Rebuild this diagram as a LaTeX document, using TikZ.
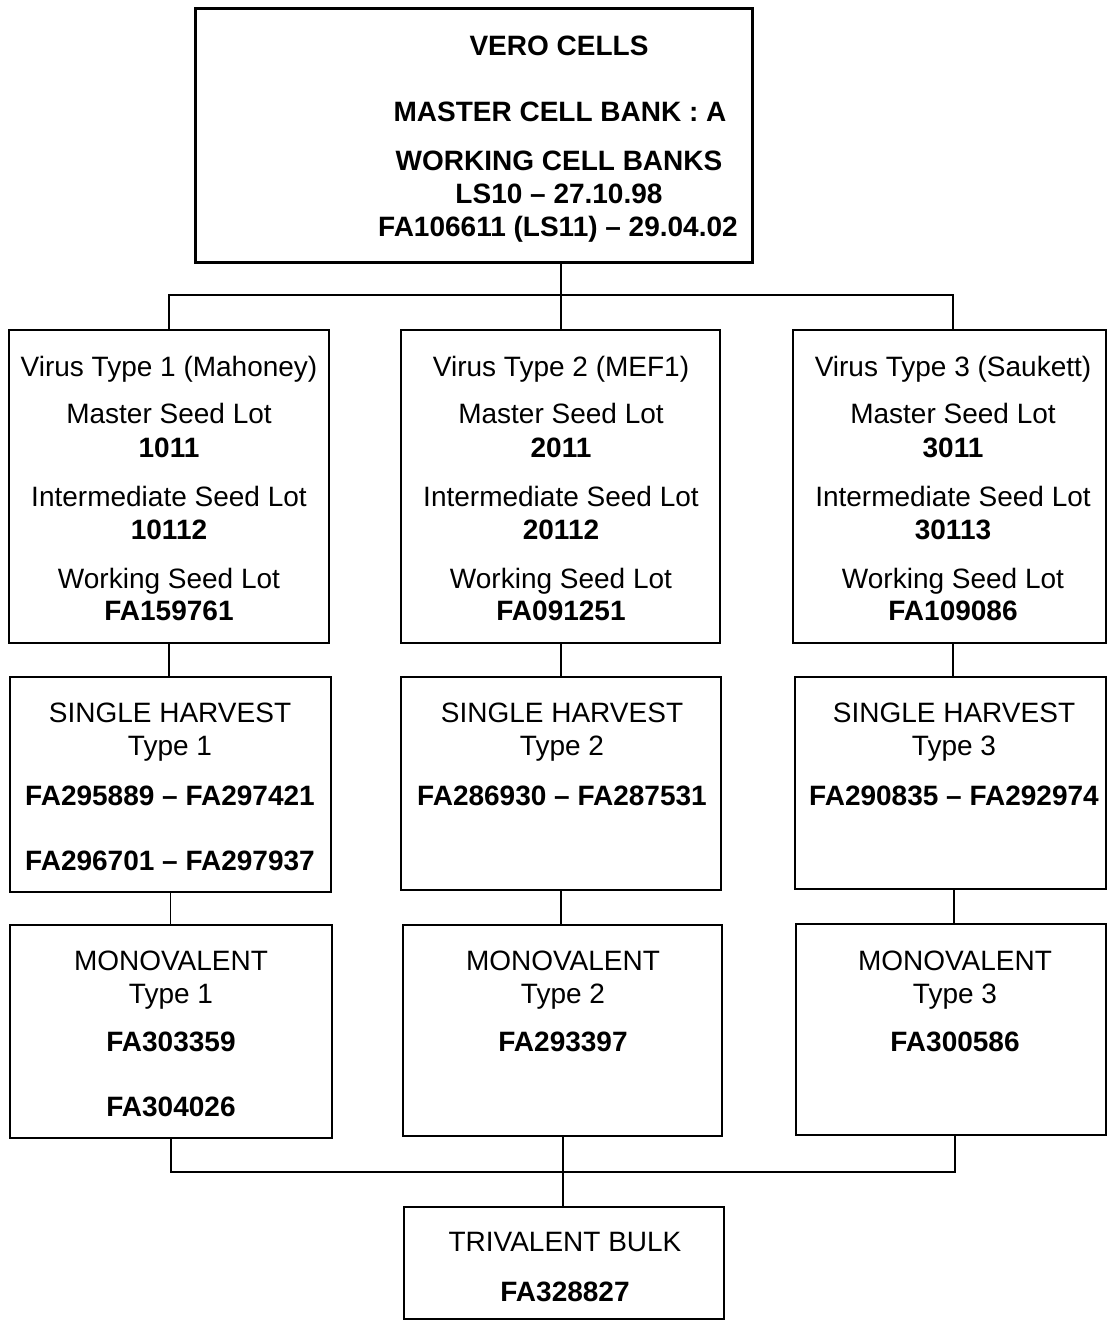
\documentclass[tikz,border=0pt]{standalone}
\usepackage{fontspec}
\setmainfont{Liberation Sans}
\begin{document}
\begin{tikzpicture}[x=1pt,y=-1pt,
  box/.style={draw, line width=1.8pt, anchor=north west, inner sep=0pt, outer sep=0pt},
  bigbox/.style={box, line width=3pt},
  conn/.style={draw, line width=1.5pt},
  txt/.style={anchor=base, inner sep=0pt, font=\fontsize{28}{33}\selectfont},
  btxt/.style={txt, font=\fontsize{28}{33}\selectfont\bfseries}]
\useasboundingbox (0,0) rectangle (1107,1320);
% boxes
\node[bigbox, minimum width=557pt, minimum height=254pt] (top) at (195,8) {};
\node[box, minimum width=320pt, minimum height=313pt] (v1) at (9,330) {};
\node[box, minimum width=319pt, minimum height=313pt] (v2) at (401,330) {};
\node[box, minimum width=313pt, minimum height=313pt] (v3) at (793,330) {};
\node[box, minimum width=321pt, minimum height=215pt] (s1) at (10,677) {};
\node[box, minimum width=320pt, minimum height=213pt] (s2) at (401,677) {};
\node[box, minimum width=311pt, minimum height=212pt] (s3) at (795,677) {};
\node[box, minimum width=322pt, minimum height=213pt] (m1) at (10,925) {};
\node[box, minimum width=319pt, minimum height=211pt] (m2) at (403,925) {};
\node[box, minimum width=310pt, minimum height=211pt] (m3) at (796,924) {};
\node[box, minimum width=320pt, minimum height=112pt] (tb) at (404,1207) {};
% top text
\node[btxt] (t1) at (559,55) {VERO CELLS};
\node[btxt] (t2) at (560,121) {MASTER CELL BANK : A};
\node[btxt] (t3) at (559,170) {WORKING CELL BANKS};
\node[btxt] (t4) at (559,203) {LS10 -- 27.10.98};
\node[btxt] (t5) at (558,236) {FA106611 (LS11) -- 29.04.02};
% virus boxes text
\node[txt] (a1) at (169,376) {Virus Type 1 (Mahoney)};
\node[txt] (a2) at (169,423) {Master Seed Lot};
\node[btxt] (a3) at (169,457) {1011};
\node[txt] (a4) at (169,506) {Intermediate Seed Lot};
\node[btxt] (a5) at (169,539) {10112};
\node[txt] (a6) at (169,588) {Working Seed Lot};
\node[btxt] (a7) at (169,620) {FA159761};
\node[txt] (b1) at (561,376) {Virus Type 2 (MEF1)};
\node[txt] (b2) at (561,423) {Master Seed Lot};
\node[btxt] (b3) at (561,457) {2011};
\node[txt] (b4) at (561,506) {Intermediate Seed Lot};
\node[btxt] (b5) at (561,539) {20112};
\node[txt] (b6) at (561,588) {Working Seed Lot};
\node[btxt] (b7) at (561,620) {FA091251};
\node[txt] (c1) at (953,376) {Virus Type 3 (Saukett)};
\node[txt] (c2) at (953,423) {Master Seed Lot};
\node[btxt] (c3) at (953,457) {3011};
\node[txt] (c4) at (953,506) {Intermediate Seed Lot};
\node[btxt] (c5) at (953,539) {30113};
\node[txt] (c6) at (953,588) {Working Seed Lot};
\node[btxt] (c7) at (953,620) {FA109086};
% single harvest text
\node[txt] (d1) at (170,722) {SINGLE HARVEST};
\node[txt] (d2) at (170,755) {Type 1};
\node[btxt] (d3) at (170,805) {FA295889 -- FA297421};
\node[btxt] (d4) at (170,870) {FA296701 -- FA297937};
\node[txt] (e1) at (562,722) {SINGLE HARVEST};
\node[txt] (e2) at (562,755) {Type 2};
\node[btxt] (e3) at (562,805) {FA286930 -- FA287531};
\node[txt] (f1) at (954,722) {SINGLE HARVEST};
\node[txt] (f2) at (954,755) {Type 3};
\node[btxt] (f3) at (954,805) {FA290835 -- FA292974};
% monovalent text
\node[txt] (g1) at (171,970) {MONOVALENT};
\node[txt] (g2) at (171,1003) {Type 1};
\node[btxt] (g3) at (171,1051) {FA303359};
\node[btxt] (g4) at (171,1116) {FA304026};
\node[txt] (h1) at (563,970) {MONOVALENT};
\node[txt] (h2) at (563,1003) {Type 2};
\node[btxt] (h3) at (563,1051) {FA293397};
\node[txt] (i1) at (955,970) {MONOVALENT};
\node[txt] (i2) at (955,1003) {Type 3};
\node[btxt] (i3) at (955,1051) {FA300586};
% trivalent text
\node[txt] (j1) at (565,1251) {TRIVALENT BULK};
\node[btxt] (j2) at (565,1301) {FA328827};
% connectors
\coordinate (bus1) at (561,295);
\draw[conn] (top.south -| bus1) -- (bus1);
\draw[conn] (bus1) -| (v1.north);
\draw[conn] (bus1) -- (bus1 |- v2.north);
\draw[conn] (bus1) -| (c1.north |- v3.north);
\draw[conn] (v1.south) -- (v1.south |- s1.north);
\draw[conn] (b7.south |- v2.south) -- (b7.south |- s2.north);
\draw[conn] (c7.south |- v3.south) -- (c7.south |- s3.north);
\draw[conn] (s1.south) -- (s1.south |- m1.north);
\draw[conn] (s2.south) -- (s2.south |- m2.north);
\draw[conn] (f1.south |- s3.south) -- (f1.south |- m3.north);
\coordinate (bus2) at (563,1172);
\draw[conn] (m1.south) |- (bus2);
\draw[conn] (i1.south |- m3.south) |- (bus2);
\draw[conn] (bus2 |- m2.south) -- (bus2);
\draw[conn] (bus2) -- (bus2 |- tb.north);
\end{tikzpicture}
\end{document}
